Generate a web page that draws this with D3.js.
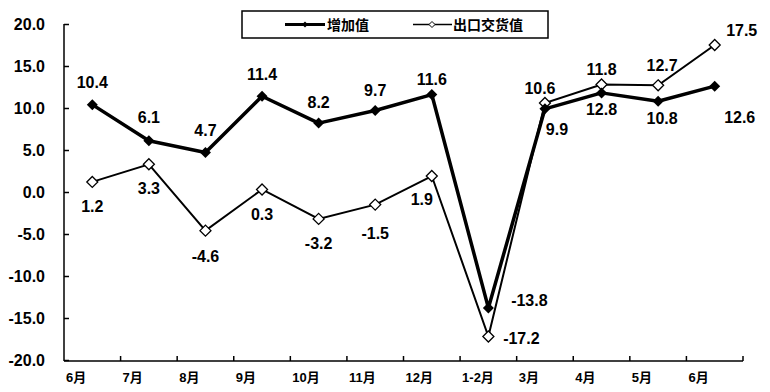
<!DOCTYPE html>
<html><head><meta charset="utf-8">
<script src="https://cdn.jsdelivr.net/npm/d3@7/dist/d3.min.js"></script>
<style>
body{margin:0;background:#fff;}
svg{display:block;}
text{font-family:"Liberation Sans",Arial,"Noto Sans CJK SC",sans-serif;font-weight:bold;fill:#000;}
</style></head>
<body><svg id="c" width="770" height="392"></svg>
<script>
const categories = ["6月","7月","8月","9月","10月","11月","12月","1-2月","3月","4月","5月","6月"];
const valueAdded = [10.4, 6.1, 4.7, 11.4, 8.2, 9.7, 11.6, -13.8, 9.9, 11.8, 10.8, 12.6];
const exportDelivery = [1.2, 3.3, -4.6, 0.3, -3.2, -1.5, 1.9, -17.2, 10.6, 12.8, 12.7, 17.5];
const yTicks = [-20, -15, -10, -5, 0, 5, 10, 15, 20];
const seriesNames = ["增加值", "出口交货值"];

// label placements (px offsets from the point)
const vaLabelOff = [[0,-22],[0,-23],[0,-22],[0,-22],[0,-21],[0,-20],[0,-15],[41,-7],[12,21],[0,-23],[4,17],[25,31]];
const edLabelOff = [[0,25],[0,24],[0,26],[0,25.5],[0,25],[0,29],[-10,23],[33,2],[-5,-14],[0,25.5],[4,-20],[27,-15]];

const svg = d3.select("#c");
const L = 64, R = 743, T = 24, B = 360;
const x = d3.scaleBand().domain(d3.range(categories.length)).range([L, R]).padding(0);
const y = d3.scaleLinear().domain([-20, 20]).range([B, T]);
const cx = i => x(i) + x.bandwidth() / 2;
const fmt = v => v.toFixed(1);

// Y axis
const yAxis = d3.axisLeft(y).tickValues(yTicks).tickSize(-5).tickPadding(19).tickFormat(fmt);
const gy = svg.append("g").attr("transform", `translate(${L},0)`).call(yAxis);
gy.select(".domain").attr("stroke", "#000").attr("stroke-width", 1.5).attr("d", `M0,${T}V${B + 1}`);
gy.selectAll(".tick line").attr("stroke", "#000").attr("stroke-width", 1.5);
gy.selectAll(".tick text").style("font-size", "16px").attr("fill", "#000");
gy.attr("font-family", null).attr("font-size", null);

// X axis
const gx = svg.append("g");
gx.append("line").attr("x1", L).attr("x2", R).attr("y1", B + 1).attr("y2", B + 1)
  .attr("stroke", "#000").attr("stroke-width", 1.5);
const bounds = d3.range(categories.length + 1).map(i => i < categories.length ? x(i) : R);
gx.selectAll("line.t").data(bounds.slice(1)).enter().append("line")
  .attr("x1", d => d).attr("x2", d => d).attr("y1", B + 1).attr("y2", B - 4)
  .attr("stroke", "#000").attr("stroke-width", 1.5);
gx.selectAll("text").data(categories).enter().append("text")
  .attr("x", (d, i) => x(i) + 2).attr("y", B + 22)
  .style("font-size", "13px").text(d => d);

const diamond = r => `M0,${-r}L${r},0L0,${r}L${-r},0Z`;
const line = d3.line().x((d, i) => cx(i)).y(d => y(d));

// Export series (open diamonds)
svg.append("path").datum(exportDelivery).attr("d", line)
  .attr("fill", "none").attr("stroke", "#000").attr("stroke-width", 2);
// Value added series (thick)
svg.append("path").datum(valueAdded).attr("d", line)
  .attr("fill", "none").attr("stroke", "#000").attr("stroke-width", 3.5).attr("stroke-linejoin", "round");

svg.selectAll("path.ed").data(exportDelivery).enter().append("path")
  .attr("transform", (d, i) => `translate(${cx(i)},${y(d)})`)
  .attr("d", diamond(5.5)).attr("fill", "#fff").attr("stroke", "#000").attr("stroke-width", 1.3);
svg.selectAll("path.va").data(valueAdded).enter().append("path")
  .attr("transform", (d, i) => `translate(${cx(i)},${y(d)})`)
  .attr("d", diamond(5.5)).attr("fill", "#000");

// Labels
function labels(data, off) {
  svg.append("g").selectAll("text").data(data).enter().append("text")
    .attr("x", (d, i) => cx(i) + off[i][0])
    .attr("y", (d, i) => y(d) + off[i][1])
    .attr("text-anchor", "middle").attr("dominant-baseline", "central")
    .style("font-size", "16px").text(d => fmt(d));
}
labels(valueAdded, vaLabelOff);
labels(exportDelivery, edLabelOff);

// Legend
const lg = svg.append("g");
lg.append("rect").attr("x", 242).attr("y", 11).attr("width", 306).attr("height", 27)
  .attr("fill", "#fff").attr("stroke", "#000").attr("stroke-width", 1.5);
lg.append("line").attr("x1", 285).attr("x2", 325).attr("y1", 24.5).attr("y2", 24.5)
  .attr("stroke", "#000").attr("stroke-width", 3);
lg.append("path").attr("transform", "translate(305,24.5)").attr("d", diamond(3)).attr("fill", "#000");
lg.append("text").attr("x", 327).attr("y", 24.5).attr("dominant-baseline", "central")
  .style("font-size", "14px").text(seriesNames[0]);
lg.append("line").attr("x1", 413).attr("x2", 452).attr("y1", 24.5).attr("y2", 24.5)
  .attr("stroke", "#000").attr("stroke-width", 1.5);
lg.append("path").attr("transform", "translate(432,24.5)").attr("d", diamond(3))
  .attr("fill", "#fff").attr("stroke", "#000").attr("stroke-width", 1);
lg.append("text").attr("x", 453).attr("y", 24.5).attr("dominant-baseline", "central")
  .style("font-size", "14px").text(seriesNames[1]);
</script></body></html>
